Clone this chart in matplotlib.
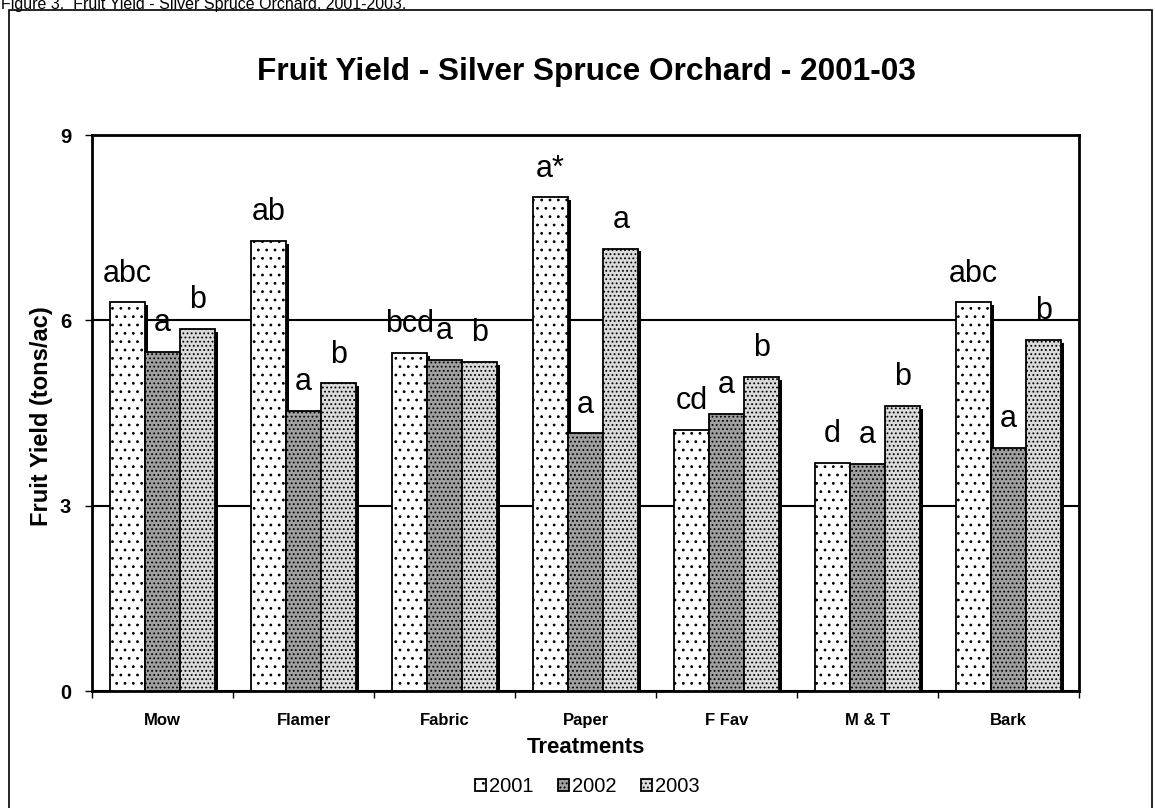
"""
Fruit yield bar chart - Silver Spruce Orchard, 2001-03.
"""
import matplotlib
matplotlib.use("Agg")
import matplotlib.pyplot as plt
import matplotlib.patches as mpatches
import matplotlib.patheffects as pe
import numpy as np

# ── data ─────────────────────────────────────────────────────────────────────
TREATMENTS = ["Mow", "Flamer", "Fabric", "Paper", "F Fav", "M & T", "Bark"]
YEARS = ["2001", "2002", "2003"]
Y2001 = [6.29, 7.28, 5.47, 7.99, 4.23, 3.69, 6.29]
Y2002 = [5.49, 4.53, 5.36, 4.17, 4.49, 3.68, 3.94]
Y2003 = [5.86, 4.98, 5.33, 7.16, 5.08, 4.61, 5.68]
L2001 = ["abc", "ab", "bcd", "a*", "cd", "d", "abc"]
L2002 = ["a", "a", "a", "a", "a", "a", "a"]
L2003 = ["b", "b", "b", "a", "b", "b", "b"]

# ── style ────────────────────────────────────────────────────────────────────
plt.rcParams["font.family"] = ["Liberation Sans", "DejaVu Sans"]
plt.rcParams["hatch.linewidth"] = 0.8
plt.rcParams["hatch.color"] = "black"

FACE = ["white", "#a0a0a0", "#dadada"]
HATCH = ["..", "....", "...."]
BAR_W = 0.25

fig = plt.figure(figsize=(11.55, 8.08), dpi=100)
ax = fig.add_axes([0.0797, 0.1448, 0.8546, 0.6881])

# outer frame + figure caption (caption sits against the top edge, as in the source page)
fig.patches.append(mpatches.Rectangle((9 / 1155, -0.05), 1143 / 1155, 1.05 - 10 / 808,
                                      transform=fig.transFigure, fill=False,
                                      edgecolor="black", lw=1.2))
fig.text(1 / 1155, 1 - 9 / 808, "Figure 3.  Fruit Yield - Silver Spruce Orchard, 2001-2003.",
         fontsize=11.5, ha="left", va="baseline")

x = np.arange(len(TREATMENTS))
shadow = [pe.SimplePatchShadow(offset=(2, -2), shadow_rgbFace="black", alpha=1.0), pe.Normal()]
series = [Y2001, Y2002, Y2003]
labels = [L2001, L2002, L2003]
for i, (vals, labs) in enumerate(zip(series, labels)):
    xs = x + (i - 1) * BAR_W
    bars = ax.bar(xs, vals, width=BAR_W, facecolor=FACE[i], edgecolor="black",
                  hatch=HATCH[i], lw=1.3, zorder=3, label=YEARS[i])
    for b in bars:
        b.set_path_effects(shadow)
    for xi, v, t in zip(xs, vals, labs):
        ax.annotate(t, (xi, v), xytext=(0, 15), textcoords="offset points",
                    ha="center", va="baseline", fontsize=22, zorder=4)

ax.set_xlim(-0.5, len(TREATMENTS) - 0.5)
ax.set_ylim(0, 9)
ax.set_yticks([0, 3, 6, 9])
ax.set_yticklabels(["0", "3", "6", "9"], fontsize=14.5, fontweight="bold")
ax.yaxis.grid(True, color="black", lw=1.5, zorder=0)
ax.set_axisbelow(True)
ax.tick_params(axis="y", direction="out", length=5, width=1, pad=10)

ax.set_xticks(x)
ax.set_xticklabels(TREATMENTS, fontsize=12, fontweight="bold")
ax.tick_params(axis="x", which="major", length=0, pad=16)
ax.set_xticks(np.arange(len(TREATMENTS) + 1) - 0.5, minor=True)
ax.tick_params(axis="x", which="minor", direction="out", length=5, width=1)

for s in ax.spines.values():
    s.set_linewidth(2)

ax.set_ylabel("Fruit Yield (tons/ac)", fontsize=17, fontweight="bold")
ax.yaxis.set_label_coords(-0.04, 0.495)
ax.set_xlabel("Treatments", fontsize=16, fontweight="bold", labelpad=6)

fig.text(0.508, 1 - 72 / 808, "Fruit Yield - Silver Spruce Orchard - 2001-03",
         fontsize=22.8, fontweight="bold", ha="center", va="center")

handles = [mpatches.Patch(facecolor=FACE[i], edgecolor="black", hatch=HATCH[i], lw=1.3)
           for i in range(3)]
fig.legend(handles, YEARS, loc="center", bbox_to_anchor=(587.5 / 1155, 1 - 787 / 808), ncol=3,
           frameon=False, fontsize=14.5, handlelength=0.55, handleheight=0.55,
           handletextpad=0.15, columnspacing=1.2, borderpad=0.1)

fig.savefig("out.png", dpi=100)
